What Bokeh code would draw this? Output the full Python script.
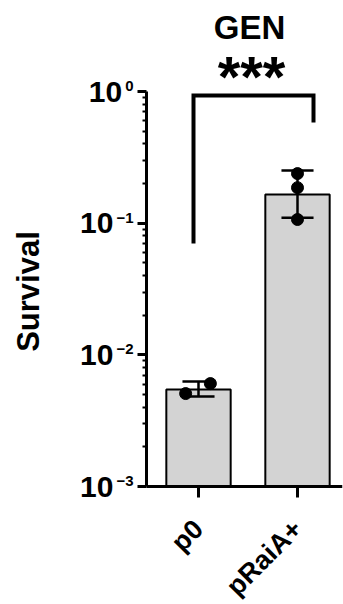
import math
from bokeh.plotting import figure
from bokeh.models import FixedTicker, CustomJSTickFormatter
from bokeh.core.properties import value
from bokeh.embed import file_html
from bokeh.resources import INLINE

# ---- data ----
categories = ["p0", "pRaiA+"]
bar_means = [0.00546, 0.165]
err_low = [0.00482, 0.110]
err_high = [0.00626, 0.251]
p0_points = [0.00508, 0.00605]
praia_points = [0.238, 0.186, 0.1066]
y_ticks = [1e-3, 1e-2, 1e-1, 1e0]
y_tick_base = ["10", "10", "10", "10"]
y_tick_exp = ["\u22123", "\u22122", "\u22121", "0"]
signif_text = "***"
title_text = "GEN"
y_label = "Survival"

# ---- layout / positions ----
p0_jitter = [-0.13, 0.12]
praia_jitter = [0.0, 0.0, 0.0]
W, H = 343, 604
FR = 342
AXIS_X_PX = 146      # pixel column of the y axis
AXIS_Y_PX = 486      # pixel row of the x axis (value 1e-3)
TOP_TICK_PX = 91     # pixel row of 1e0
PX_PER_CAT = 99.0
CAT0_PX = 198.0
X0 = (0 - CAT0_PX) / PX_PER_CAT
X1 = (FR - CAT0_PX) / PX_PER_CAT
DEC = (AXIS_Y_PX - TOP_TICK_PX) / 3.0
LOG_AX = math.log10(y_ticks[0])
LOGY0 = LOG_AX - (H - AXIS_Y_PX) / DEC
LOGY1 = LOG_AX + AXIS_Y_PX / DEC
FONT = "Liberation Sans"


def xd(px):
    return (px - CAT0_PX) / PX_PER_CAT


def yd(py):
    return 10 ** (LOG_AX + (AXIS_Y_PX - py) / DEC)


def yshift(v, dy):
    return v * 10 ** (-dy / DEC)


p = figure(width=W, height=H, x_range=(X0, X1), y_range=(10 ** LOGY0, 10 ** LOGY1),
           y_axis_type="log", output_backend="svg", toolbar_location=None, title=None,
           min_border_left=0, min_border_right=W - FR, min_border_top=0,
           min_border_bottom=0)
p.outline_line_color = None
p.grid.visible = False
p.background_fill_color = "white"
p.border_fill_color = "white"

# y axis (fixed inside the frame)
yax = p.yaxis[0]
yax.fixed_location = xd(AXIS_X_PX)
yax.ticker = FixedTicker(ticks=y_ticks,
                         minor_ticks=[k * t for t in y_ticks[:-1] for k in range(2, 10)])
yax.bounds = (y_ticks[0], y_ticks[-1])
yax.formatter = CustomJSTickFormatter(code="return ''")
yax.axis_line_width = 3
yax.axis_line_color = "black"
yax.major_tick_line_width = 3
yax.minor_tick_line_width = 2
yax.major_tick_out = 9
yax.major_tick_in = 0
yax.minor_tick_out = 4
yax.minor_tick_in = 0

# x axis (fixed at 1e-3)
xpos = list(range(len(categories)))
xax = p.xaxis[0]
xax.fixed_location = y_ticks[0]
xax.bounds = (xd(AXIS_X_PX), X1)
xax.ticker = FixedTicker(ticks=xpos, minor_ticks=[])
xax.major_label_overrides = {i: c for i, c in enumerate(categories)}
xax.major_label_orientation = math.pi / 4
xax.major_label_text_font = FONT
xax.major_label_text_font_style = "bold"
xax.major_label_text_font_size = "27px"
xax.major_label_text_color = "black"
xax.major_label_standoff = 27
xax.axis_line_width = 3
xax.major_tick_line_width = 3
xax.major_tick_out = 11
xax.major_tick_in = 0
xax.minor_tick_out = 0

# bars
p.vbar(x=xpos, top=bar_means, bottom=y_ticks[0], width=0.65,
       fill_color="#d3d3d3", line_color="black", line_width=2)

# error bars
cap = 0.162
p.segment(x0=xpos, y0=err_low, x1=xpos, y1=err_high, line_color="black", line_width=2.5)
p.segment(x0=[x - cap for x in xpos], y0=err_low, x1=[x + cap for x in xpos], y1=err_low,
          line_color="black", line_width=2.5)
p.segment(x0=[x - cap for x in xpos], y0=err_high, x1=[x + cap for x in xpos], y1=err_high,
          line_color="black", line_width=2.5)

# points
p.scatter(x=[xpos[0] + j for j in p0_jitter], y=p0_points, size=12, color="black")
p.scatter(x=[xpos[1] + j for j in praia_jitter], y=praia_points, size=12, color="black")

# significance bracket
bx_l, bx_r = xd(193), xd(313)
p.line(x=[bx_l, bx_l, bx_r, bx_r], y=[yd(243), yd(95), yd(95), yd(122)],
       line_color="black", line_width=4, line_join="miter")
p.text(x=[xd(251)], y=[yd(76)], text=[signif_text], text_align="center",
       text_baseline="alphabetic", text_font=value(FONT), text_font_style="bold",
       text_font_size="58px", text_color="black")

# title
p.text(x=[xd(249)], y=[yd(27)], text=[title_text], text_align="center",
       text_baseline="alphabetic", text_font=value(FONT), text_font_style="bold",
       text_font_size="33px", text_color="black")

# y tick labels: "10" with a superscript exponent
BASE_FS, EXP_FS = 30, 15
EXP_RIGHT_PX = 133
GAP_PX = 3


def adv(s, fs):
    w = {"\u2212": 0.584, "-": 0.333}
    return sum(w.get(ch, 0.556) for ch in s) * fs


base_x = [xd(EXP_RIGHT_PX - adv(e, EXP_FS) - GAP_PX) for e in y_tick_exp]
p.text(x=base_x, y=y_ticks, text=y_tick_base, text_align="right",
       text_baseline="alphabetic", text_font=value(FONT), text_font_style="bold",
       text_font_size=f"{BASE_FS}px", text_color="black")
p.text(x=[xd(EXP_RIGHT_PX)] * len(y_ticks), y=[yshift(t, -5.5) for t in y_ticks],
       text=y_tick_exp, text_align="right", text_baseline="alphabetic",
       text_font=value(FONT), text_font_style="bold",
       text_font_size=f"{EXP_FS}px", text_color="black")

# y axis label
p.text(x=[xd(28)], y=[yd(291)], text=[y_label], angle=math.pi / 2,
       text_align="center", text_baseline="alphabetic", text_font=value(FONT),
       text_font_style="bold", text_font_size="31px", text_color="black")

open("out.html", "w").write(file_html(p, INLINE))
